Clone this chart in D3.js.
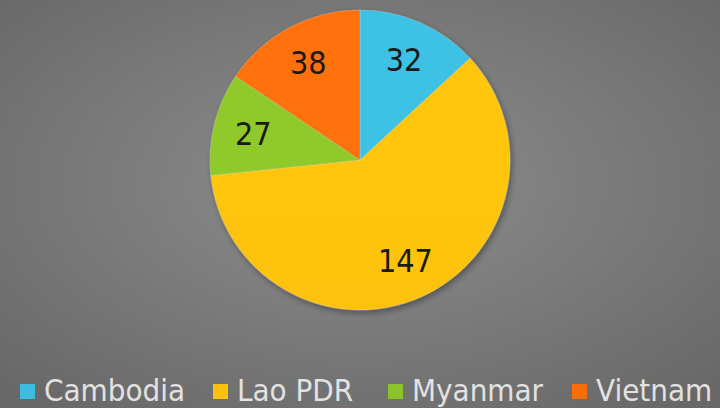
<!DOCTYPE html>
<html>
<head>
<meta charset="utf-8">
<script src="https://cdn.jsdelivr.net/npm/d3@7"></script>
<style>
  html, body { margin: 0; padding: 0; background: #7a7a7a; }
  svg { display: block; }
</style>
</head>
<body>
<div class="chart"></div>
<script>
// data
const countries = ["Cambodia", "Lao PDR", "Myanmar", "Vietnam"];
const counts = [32, 147, 27, 38];
const sliceColors = ["#3cbcde", "#fdc00e", "#8bc328", "#f76e0a"];

let svgWidth = 720;
let svgHeight = 408;

const cx = 360, cy = 160, radius = 150;
const labelFont = "'DejaVu Sans Condensed', 'DejaVu Sans', sans-serif";

let svg = d3.select(".chart")
            .append("svg")
            .attr("width", svgWidth)
            .attr("height", svgHeight);

let defs = svg.append("defs");

// gray background, lighter in the middle
let bg = defs.append("radialGradient")
             .attr("id", "bg")
             .attr("cx", "50%").attr("cy", "45%").attr("r", "70%");
bg.append("stop").attr("offset", "0%").attr("stop-color", "#8e8e8e");
bg.append("stop").attr("offset", "100%").attr("stop-color", "#686868");

svg.append("rect")
   .attr("width", svgWidth)
   .attr("height", svgHeight)
   .attr("fill", "url(#bg)");

// soft shadow under the pie
let shadow = defs.append("filter")
                 .attr("id", "shadow")
                 .attr("x", "-20%").attr("y", "-20%")
                 .attr("width", "140%").attr("height", "140%");
shadow.append("feDropShadow")
      .attr("dx", 2).attr("dy", 3)
      .attr("stdDeviation", 3)
      .attr("flood-color", "#000")
      .attr("flood-opacity", 0.35);

// each slice a touch lighter at top
sliceColors.forEach((c, i) => {
  let g = defs.append("linearGradient")
              .attr("id", "slice" + i)
              .attr("gradientUnits", "userSpaceOnUse")
              .attr("x1", 0).attr("y1", cy - radius)
              .attr("x2", 0).attr("y2", cy + radius);
  g.append("stop").attr("offset", "0%").attr("stop-color", d3.color(c).brighter(0.08));
  g.append("stop").attr("offset", "100%").attr("stop-color", d3.color(c).darker(0.05));
});

let pie = d3.pie().sort(null).value(d => d.value);
let arcs = pie(countries.map((name, i) => ({name: name, value: counts[i], idx: i})));

let arc = d3.arc().innerRadius(0).outerRadius(radius);
let labelArc = d3.arc().innerRadius(110).outerRadius(110);

let chart = svg.append("g")
               .attr("transform", `translate(${cx},${cy})`);

chart.append("g")
     .attr("filter", "url(#shadow)")
     .selectAll("path")
     .data(arcs)
     .enter().append("path")
     .attr("d", arc)
     .attr("fill", d => `url(#slice${d.data.idx})`)
     .attr("stroke", "rgba(255,255,255,0.25)")
     .attr("stroke-width", 0.8);

chart.selectAll("text.val")
     .data(arcs)
     .enter().append("text")
     .attr("class", "val")
     .attr("transform", d => `translate(${labelArc.centroid(d)})`)
     .attr("text-anchor", "middle")
     .attr("dy", "0.36em")
     .style("font-family", labelFont)
     .style("font-size", "32px")
     .attr("fill", "#1a1a1a")
     .text(d => d.data.value);

// legend along the bottom
let legendX = d3.scaleOrdinal()
                .domain(countries)
                .range([20, 213, 388, 572]);

let legend = svg.append("g")
                .selectAll("g")
                .data(countries)
                .enter().append("g")
                .attr("transform", d => `translate(${legendX(d)},0)`);

legend.append("rect")
      .attr("x", 0).attr("y", 384)
      .attr("width", 15).attr("height", 15)
      .attr("fill", (d, i) => sliceColors[i]);

legend.append("text")
      .attr("x", 24).attr("y", 401)
      .style("font-family", labelFont)
      .style("font-size", "31px")
      .attr("fill", "#e2e2e2")
      .text(d => d);
</script>
</body>
</html>
